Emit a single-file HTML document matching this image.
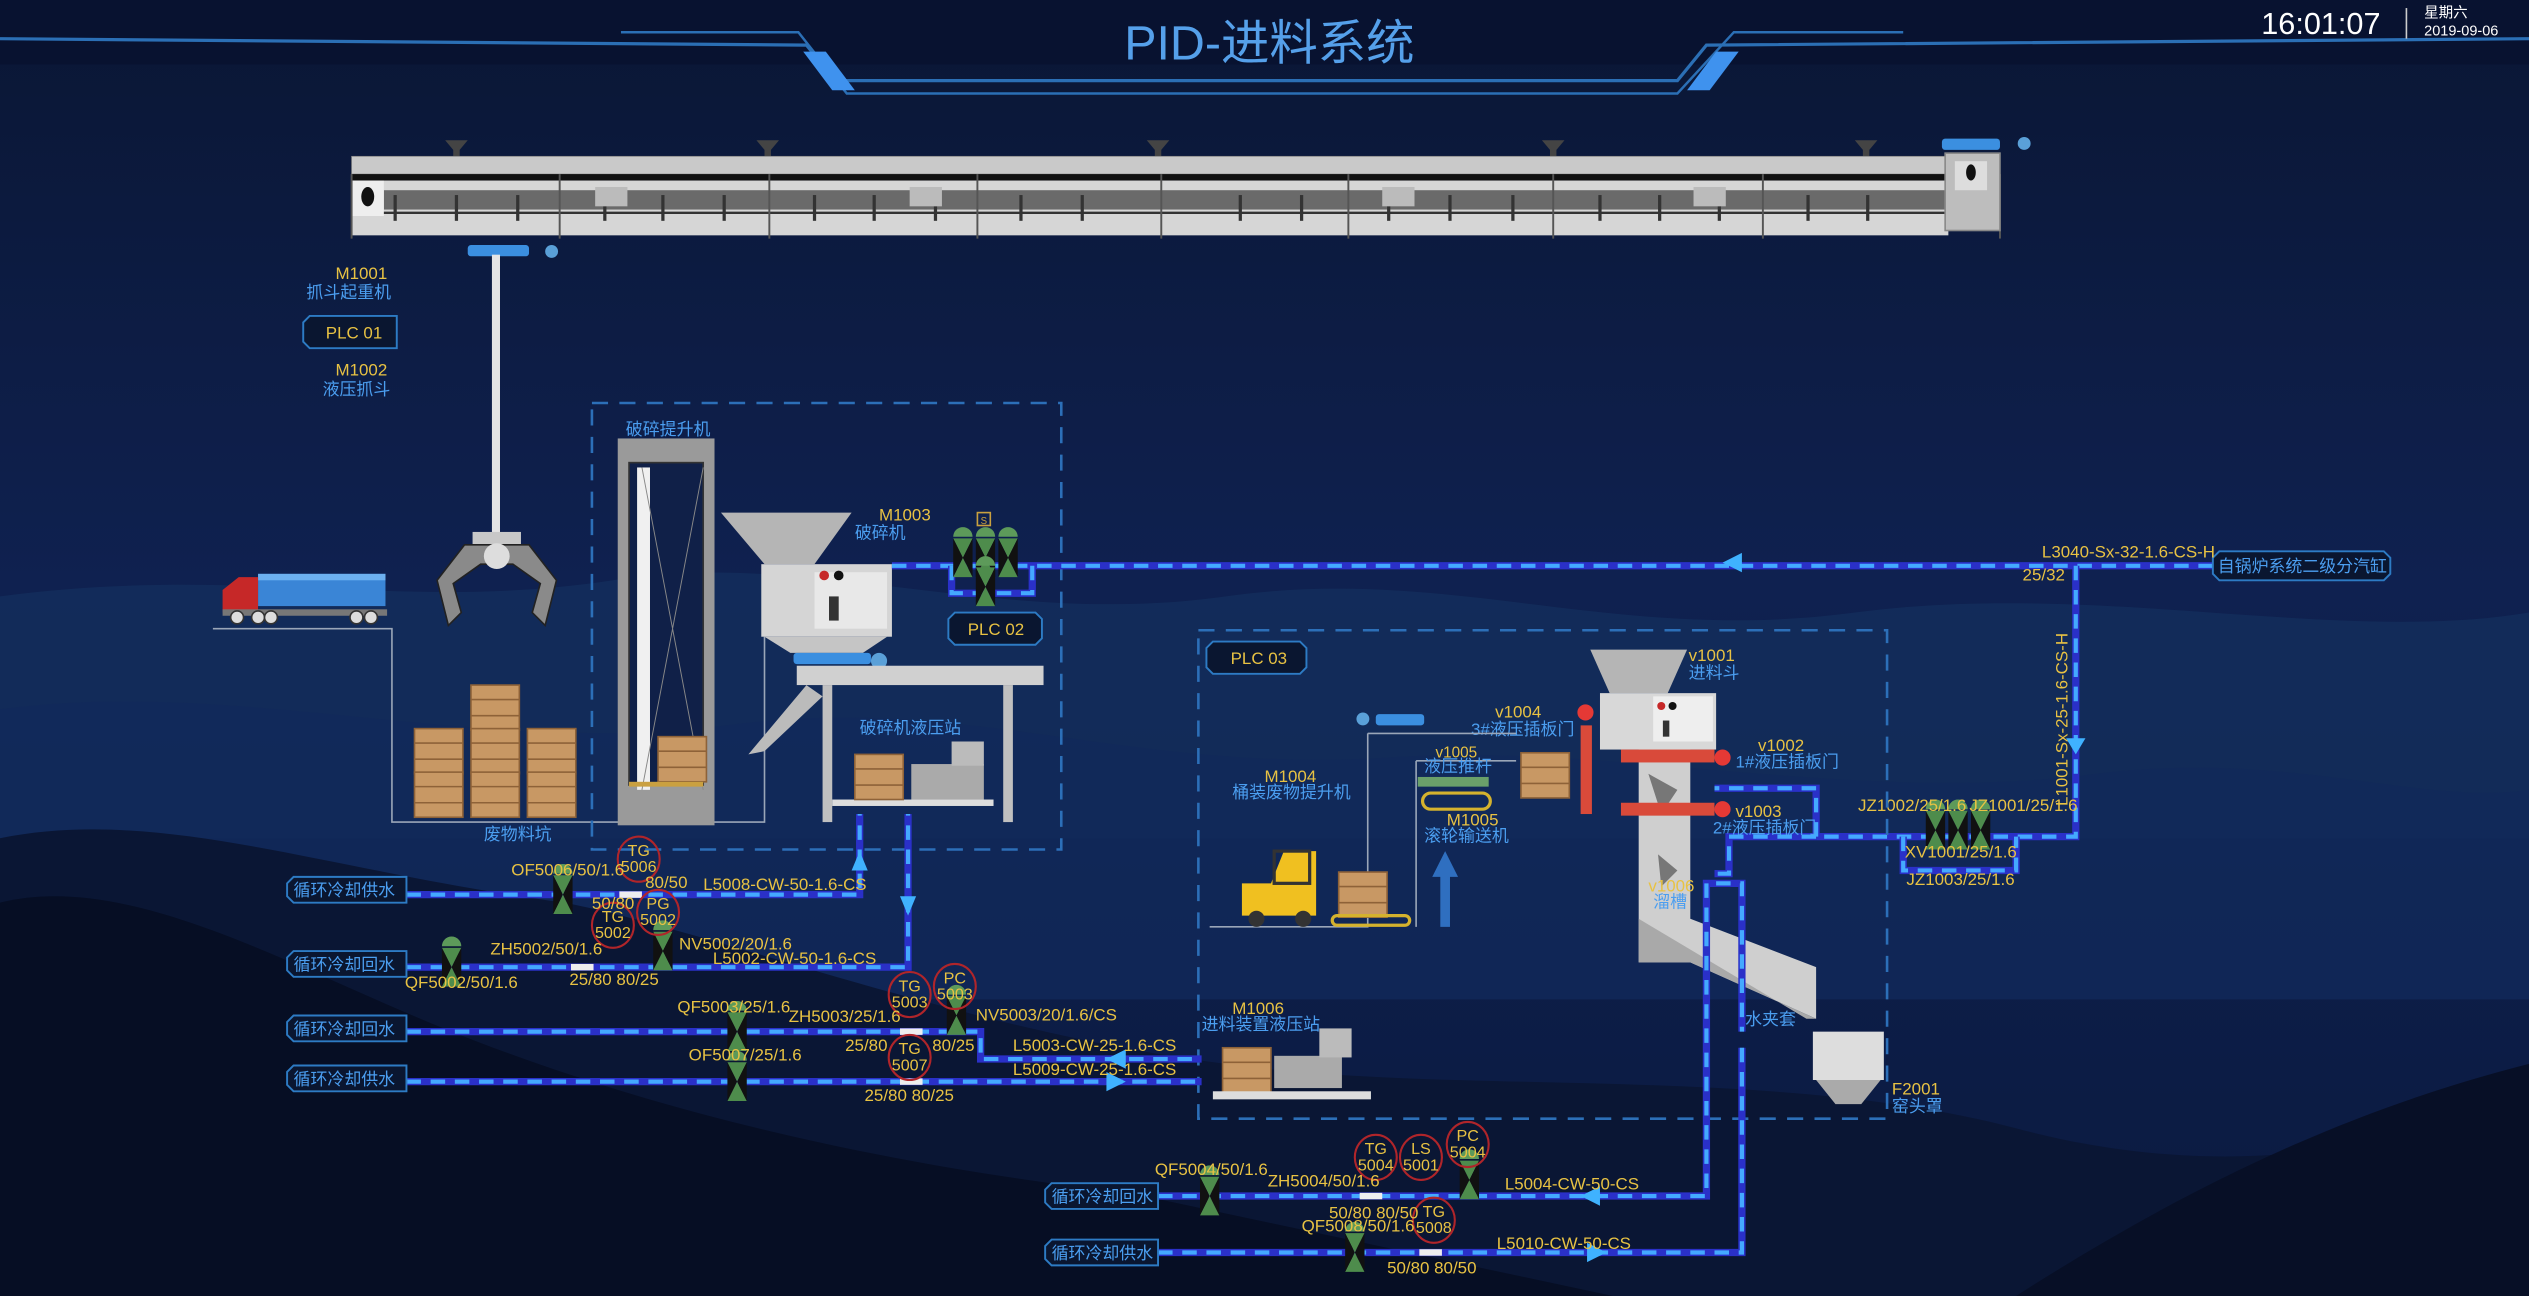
<!DOCTYPE html>
<html><head><meta charset="utf-8"><style>
html,body{margin:0;padding:0;background:#0c1a3c;}
svg{display:block}
text{font-family:"Liberation Sans","Noto Sans CJK SC",sans-serif}
.y{fill:#e8c243;font-size:10.5px}
.b{fill:#4b9ef0;font-size:10.5px}
.pa{stroke:#2a30c8;stroke-width:4.5;fill:none}
.pb{stroke:#44a9ff;stroke-width:2.6;stroke-dasharray:9 6;fill:none}
.db{stroke:#2c6fb8;stroke-width:1.6;stroke-dasharray:10 7;fill:none}
.tag{fill:none;stroke:#b0252a;stroke-width:1.3}
.lb{fill:#0a1630;stroke:#2d7bc4;stroke-width:1.2}
.gl{stroke:#9aa6b8;stroke-width:1;fill:none}
</style></head><body>
<svg width="2529" height="1296" viewBox="0 0 1568 804" preserveAspectRatio="none" xmlns="http://www.w3.org/2000/svg">
<defs>
<linearGradient id="bg" x1="0" y1="0" x2="0" y2="1">
<stop offset="0" stop-color="#0a1634"/><stop offset="0.45" stop-color="#0f2150"/><stop offset="1" stop-color="#0b1a40"/></linearGradient>
<g id="v"><path d="M-6,-13 a6,6 0 0 1 12,0 z" fill="#5d9a5a"/><path d="M-6,-12 L6,-12 L0,0Z M-6,12 L6,12 L0,0Z" fill="#4e8c4c"/><path d="M-6,-12 L0,0 L-6,12Z M6,-12 L0,0 L6,12Z" fill="#111"/></g>
<g id="box"><rect x="0" y="0" width="30" height="28" fill="#c89864" stroke="#8e6238"/><line x1="0" y1="9" x2="30" y2="9" stroke="#8e6238"/><line x1="0" y1="19" x2="30" y2="19" stroke="#8e6238"/></g>
</defs>
<rect width="1568" height="804" fill="url(#bg)"/>
<!-- mountains -->
<path d="M0,370 C150,350 250,380 380,360 C500,340 620,390 760,370 C900,350 1000,400 1150,380 C1300,360 1450,400 1568,380 L1568,520 L0,520Z" fill="#14305e" opacity="0.7"/>
<path d="M0,440 C150,420 300,470 450,450 C600,430 700,480 860,470 C1000,460 1150,500 1300,480 C1420,465 1500,500 1568,490 L1568,620 L0,620Z" fill="#12295a" opacity="0.8"/>
<path d="M0,520 C100,500 200,540 350,560 C450,580 600,640 760,660 C900,680 1100,660 1250,700 C1400,740 1500,700 1568,690 L1568,804 L0,804Z" fill="#0a1634"/>
<path d="M0,560 C80,540 180,600 280,640 C380,680 520,720 700,740 L1000,804 L0,804Z" fill="#060e24"/>
<path d="M1250,804 C1350,740 1450,690 1568,660 L1568,804Z" fill="#070f26"/>
<!-- header -->
<rect x="0" y="0" width="1568" height="40" fill="#081230"/>
<path d="M0,24 L500,28 L518,50 L1040,50 L1058,28 L1568,24" stroke="#2b6fb5" stroke-width="2" fill="none"/>
<path d="M385,20 L495,20 L525,58 L1040,58 L1075,20 L1180,20" stroke="#2b6fb5" stroke-width="1.5" fill="none"/>
<path d="M498,32 L512,32 L530,56 L516,56Z" fill="#3f92ee"/>
<path d="M1064,32 L1078,32 L1060,56 L1046,56Z" fill="#3f92ee"/>
<text x="787" y="37" text-anchor="middle" style="font-size:30px;fill:#55a0ea">PID-进料系统</text>
<text x="1402" y="21" style="font-size:19px;fill:#fff">16:01:07</text>
<line x1="1492" y1="5" x2="1492" y2="24" stroke="#ccc"/>
<text x="1503" y="11" style="font-size:9px;fill:#fff">星期六</text>
<text x="1503" y="22" style="font-size:9px;fill:#fff">2019-09-06</text>

<!-- conveyor -->
<g>
<g fill="#444"><path d="M276,87 h14 l-5,6 v4 h-4 v-4z"/><path d="M469,87 h14 l-5,6 v4 h-4 v-4z"/><path d="M711,87 h14 l-5,6 v4 h-4 v-4z"/><path d="M956,87 h14 l-5,6 v4 h-4 v-4z"/><path d="M1150,87 h14 l-5,6 v4 h-4 v-4z"/></g>
<rect x="218" y="97" width="990" height="11" fill="#c9c9c9" stroke="#888" stroke-width="0.5"/>
<rect x="218" y="108" width="990" height="4" fill="#111"/>
<rect x="218" y="112" width="990" height="34" fill="#d6d6d6"/>
<rect x="238" y="118" width="970" height="12" fill="#6a6a6a"/>
<line x1="218" y1="132" x2="1208" y2="132" stroke="#333" stroke-width="1.5"/>
<rect x="218" y="112" width="20" height="22" fill="#eee"/><ellipse cx="228" cy="122" rx="4" ry="6" fill="#111"/>
<g stroke="#555" stroke-width="1.2"><line x1="347" y1="108" x2="347" y2="148"/><line x1="477" y1="108" x2="477" y2="148"/><line x1="606" y1="108" x2="606" y2="148"/><line x1="720" y1="108" x2="720" y2="148"/><line x1="836" y1="108" x2="836" y2="148"/><line x1="963" y1="108" x2="963" y2="148"/><line x1="1093" y1="108" x2="1093" y2="148"/><line x1="218" y1="108" x2="218" y2="148"/><line x1="1240" y1="108" x2="1240" y2="148"/></g>
<g fill="#333"><rect x="244" y="121" width="2" height="16"/><rect x="282" y="121" width="2" height="16"/><rect x="320" y="121" width="2" height="16"/><rect x="374" y="121" width="2" height="16"/><rect x="410" y="121" width="2" height="16"/><rect x="448" y="121" width="2" height="16"/><rect x="504" y="121" width="2" height="16"/><rect x="541" y="121" width="2" height="16"/><rect x="579" y="121" width="2" height="16"/><rect x="632" y="121" width="2" height="16"/><rect x="670" y="121" width="2" height="16"/><rect x="768" y="121" width="2" height="16"/><rect x="806" y="121" width="2" height="16"/><rect x="860" y="121" width="2" height="16"/><rect x="898" y="121" width="2" height="16"/><rect x="937" y="121" width="2" height="16"/><rect x="991" y="121" width="2" height="16"/><rect x="1028" y="121" width="2" height="16"/><rect x="1065" y="121" width="2" height="16"/><rect x="1120" y="121" width="2" height="16"/><rect x="1157" y="121" width="2" height="16"/></g>
<g fill="#bbb"><rect x="369" y="116" width="20" height="12"/><rect x="564" y="116" width="20" height="12"/><rect x="857" y="116" width="20" height="12"/><rect x="1050" y="116" width="20" height="12"/></g>
<rect x="1206" y="95" width="34" height="48" fill="#bdbdbd" stroke="#888"/>
<rect x="1212" y="100" width="20" height="18" fill="#ddd"/><ellipse cx="1222" cy="107" rx="3" ry="5" fill="#111"/>
<rect x="1204" y="86" width="36" height="7" rx="2" fill="#3b8fe0"/><circle cx="1255" cy="89" r="4" fill="#5aa0d8"/>
</g>
<!-- crane -->
<rect x="290" y="152" width="38" height="7" rx="2" fill="#3b8fe0"/><circle cx="342" cy="156" r="4" fill="#5aa0d8"/>
<rect x="305" y="158" width="5" height="174" fill="#e4e4e4"/>
<rect x="293" y="330" width="30" height="8" fill="#c8c8c8"/>
<path d="M288,338 H328 L345,360 L338,388 L330,380 L335,362 L318,350 H298 L281,362 L286,380 L278,388 L271,360Z" fill="#8a8a8a" stroke="#222" stroke-width="1"/>
<circle cx="308" cy="345" r="8" fill="#ddd"/>
<text x="208" y="173" class="y">M1001</text><text x="190" y="185" class="b">抓斗起重机</text>
<path d="M192,196 H246 V216 H192 L188,212 V200Z" class="lb"/><text x="202" y="210" class="y">PLC  01</text>
<text x="208" y="233" class="y">M1002</text><text x="200" y="245" class="b">液压抓斗</text>
<!-- truck -->
<rect x="160" y="356" width="79" height="20" fill="#3a85d6"/><rect x="160" y="356" width="79" height="4" fill="#6cb0ef"/>
<path d="M138,366 L148,358 H160 V380 H138Z" fill="#c62828"/><rect x="138" y="378" width="102" height="4" fill="#777"/>
<g fill="#ddd" stroke="#333"><circle cx="147" cy="383" r="4"/><circle cx="160" cy="383" r="4"/><circle cx="168" cy="383" r="4"/><circle cx="221" cy="383" r="4"/><circle cx="230" cy="383" r="4"/></g>
<!-- pit -->
<path d="M132,390 H243 V510 H474 V395" class="gl"/>
<use href="#box" x="292" y="425"/><use href="#box" x="257" y="452"/><use href="#box" x="292" y="452"/><use href="#box" x="327" y="452"/><use href="#box" x="257" y="479"/><use href="#box" x="292" y="479"/><use href="#box" x="327" y="479"/>
<text x="300" y="521" class="b">废物料坑</text>
<!-- dashed zone 1 -->
<rect x="367" y="250" width="291" height="277" class="db"/>
<text x="388" y="270" class="b">破碎提升机</text>
<rect x="383" y="272" width="60" height="240" fill="#9a9a9a"/><rect x="390" y="287" width="46" height="200" fill="#102048" stroke="#333"/>
<rect x="395" y="290" width="8" height="200" fill="#f0f0f0"/>
<path d="M398,290 L436,490 M436,290 L398,490" stroke="#888" stroke-width="0.6"/>
<use href="#box" x="408" y="457"/><rect x="390" y="485" width="46" height="3" fill="#caa040"/>
<!-- crusher -->
<path d="M447,318 H528 L505,350 H474Z" fill="#b5b5b5"/>
<rect x="472" y="350" width="81" height="45" fill="#d5d5d5"/><rect x="505" y="355" width="45" height="35" fill="#e8e8e8"/>
<circle cx="511" cy="357" r="3" fill="#c62828"/><circle cx="520" cy="357" r="3" fill="#111"/><rect x="514" y="370" width="6" height="15" fill="#333"/>
<path d="M474,395 H550 L535,405 H490Z" fill="#c5c5c5"/>
<rect x="492" y="405" width="48" height="7" rx="2" fill="#3b8fe0"/><circle cx="545" cy="410" r="5" fill="#5aa0d8"/>
<rect x="494" y="413" width="153" height="12" fill="#d0d0d0"/>
<path d="M500,425 L464,468 L474,466 L510,432Z" fill="#bbb"/>
<rect x="510" y="425" width="6" height="85" fill="#c0c0c0"/><rect x="622" y="425" width="6" height="85" fill="#c0c0c0"/>
<rect x="516" y="496" width="100" height="4" fill="#ddd"/>
<use href="#box" x="530" y="468"/><rect x="565" y="474" width="45" height="22" fill="#aaa"/><rect x="590" y="460" width="20" height="15" fill="#bbb"/>
<text x="545" y="323" class="y">M1003</text><text x="530" y="334" class="b">破碎机</text>
<text x="533" y="455" class="b">破碎机液压站</text>
<path d="M592,380 H642 L646,384 V396 L642,400 H592 L588,396 V384Z" class="lb"/><text x="600" y="394" class="y">PLC  02</text>
<!-- steam line -->
<path d="M553,351 H1480" class="pa"/><path d="M553,351 H1480" class="pb"/>
<path d="M590,351 V368 H640 V351" class="pa"/><path d="M590,351 V368 H640 V351" class="pb"/>
<use href="#v" x="597" y="346"/><use href="#v" x="611" y="346"/><use href="#v" x="625" y="346"/><use href="#v" x="611" y="364"/>
<rect x="606" y="318" width="8" height="8" fill="none" stroke="#c9a13f"/><text x="608" y="325" style="font-size:6px;fill:#c9a13f">S</text>
<path d="M1068,349 L1080,343 V355Z" fill="#3fb2ff"/>
<path d="M1376,342 H1478 L1482,346 V356 L1478,360 H1376 L1372,356 V346Z" class="lb"/><text x="1375" y="355" class="b">自锅炉系统二级分汽缸</text>
<text x="1266" y="346" class="y">L3040-Sx-32-1.6-CS-H</text><text x="1254" y="360" class="y">25/32</text>
<path d="M1287,351 V519 H1126" class="pa"/><path d="M1287,351 V519 H1126" class="pb"/>
<path d="M1287,468 L1281,458 H1293Z" fill="#3fb2ff"/>
<text transform="translate(1282,500) rotate(-90)" class="y">L1001-Sx-25-1.6-CS-H</text>
<path d="M1180,519 V540 H1250 V519" class="pa"/><path d="M1180,519 V540 H1250 V519" class="pb"/>
<use href="#v" x="1200" y="515"/><use href="#v" x="1214" y="515"/><use href="#v" x="1228" y="515"/>
<text x="1152" y="503" class="y">JZ1002/25/1.6</text><text x="1221" y="503" class="y">JZ1001/25/1.6</text>
<text x="1181" y="532" class="y">XV1001/25/1.6</text><text x="1182" y="549" class="y">JZ1003/25/1.6</text>
<path d="M1126,519 V489 H1063 M1126,519 H1072 V542 H1063" class="pa"/><path d="M1126,519 V489 H1063 M1126,519 H1072 V542 H1063" class="pb"/>
<!-- zone 3 -->
<rect x="743" y="391" width="427" height="303" class="db"/>
<path d="M752,398 H806 L810,402 V414 L806,418 H752 L748,414 V402Z" class="lb"/><text x="763" y="412" class="y">PLC  03</text>
<path d="M986,403 H1046 L1034,430 H998Z" fill="#b5b5b5"/>
<rect x="992" y="430" width="72" height="35" fill="#d8d8d8"/><rect x="1025" y="432" width="37" height="28" fill="#eee"/>
<circle cx="1030" cy="438" r="2.5" fill="#c62828"/><circle cx="1037" cy="438" r="2.5" fill="#111"/><rect x="1031" y="447" width="4" height="10" fill="#333"/>
<path d="M1016,465 H1048 V570 L1126,600 V632 L1048,597 H1016Z" fill="#cfcfcf"/>
<path d="M1016,570 L1120,632 L1126,632 L1048,597 H1016Z" fill="#a9a9a9"/>
<path d="M1022,480 L1040,490 L1030,505Z M1028,530 L1040,540 L1030,550Z" fill="#777"/>
<rect x="1005" y="465" width="58" height="8" fill="#d94a3a"/><circle cx="1068" cy="470" r="5" fill="#e53935"/>
<rect x="1005" y="498" width="58" height="8" fill="#d94a3a"/><circle cx="1068" cy="502" r="5" fill="#e53935"/>
<rect x="980" y="450" width="7" height="55" fill="#d94a3a"/><circle cx="983" cy="442" r="5" fill="#e53935"/>
<text x="1047" y="410" class="y">v1001</text><text x="1047" y="421" class="b">进料斗</text>
<text x="927" y="445" class="y">v1004</text><text x="912" y="456" class="b">3#液压插板门</text>
<text x="1090" y="466" class="y">v1002</text><text x="1076" y="476" class="b">1#液压插板门</text>
<text x="1076" y="507" class="y">v1003</text><text x="1062" y="517" class="b">2#液压插板门</text>
<text x="1022" y="553" class="y">v1006</text><text x="1025" y="563" class="b">溜槽</text>
<path d="M848,455 H940 M878,472 H940" class="gl"/>
<circle cx="845" cy="446" r="4" fill="#5aa0d8"/><rect x="853" y="443" width="30" height="7" rx="2" fill="#3b8fe0"/>
<path d="M848,455 V575 H750 M878,472 V575" class="gl"/>
<text x="890" y="470" class="y" style="font-size:9.5px">v1005</text><text x="883" y="479" class="b">液压推杆</text>
<rect x="879" y="482" width="44" height="6" fill="#6aa06a"/>
<rect x="882" y="492" width="42" height="10" rx="5" fill="none" stroke="#d4b22e" stroke-width="2"/>
<use href="#box" x="943" y="467"/>
<text x="897" y="512" class="y">M1005</text><text x="883" y="522" class="b">滚轮输送机</text>
<path d="M896,528 L904,544 H899 V575 H893 V544 H888Z" fill="#2f6fc0"/>
<text x="784" y="485" class="y">M1004</text><text x="764" y="495" class="b">桶装废物提升机</text>
<path d="M770,548 h18 l8,-20 h20 v40 h-46z" fill="#f0c020"/><rect x="790" y="528" width="22" height="20" fill="none" stroke="#333" stroke-width="2"/>
<circle cx="779" cy="570" r="5" fill="#333"/><circle cx="808" cy="570" r="5" fill="#333"/>
<use href="#box" x="830" y="541"/><rect x="826" y="568" width="48" height="6" rx="3" fill="none" stroke="#d4b22e" stroke-width="2"/>
<text x="764" y="629" class="y">M1006</text><text x="745" y="639" class="b">进料装置液压站</text>
<use href="#box" x="758" y="650"/><rect x="790" y="655" width="42" height="20" fill="#aaa"/><rect x="818" y="638" width="20" height="18" fill="#bbb"/>
<rect x="752" y="677" width="98" height="5" fill="#ddd"/>
<rect x="1124" y="640" width="44" height="30" fill="#ddd"/><path d="M1126,670 H1166 L1154,685 H1138Z" fill="#aaa"/>
<text x="1173" y="679" class="y">F2001</text><text x="1173" y="690" class="b">窑头罩</text>
<text x="1082" y="636" class="b">水夹套</text>
<!-- cooling water lines -->
<g>
<path d="M252,555 H533 V505" class="pa"/><path d="M252,555 H533 V505" class="pb"/>
<path d="M252,600 H563 V505" class="pa"/><path d="M252,600 H563 V505" class="pb"/>
<path d="M252,640 H608 V657 H745" class="pa"/><path d="M252,640 H608 V657 H745" class="pb"/>
<path d="M252,671 H745" class="pa"/><path d="M252,671 H745" class="pb"/>
<path d="M718,742 H1058 V548 H1080 V640" class="pa"/><path d="M718,742 H1058 V548 H1080 V640" class="pb"/>
<path d="M718,777 H1080 V650" class="pa"/><path d="M718,777 H1080 V650" class="pb"/>
</g>
<g fill="#3fb2ff"><path d="M533,528 L528,540 H538Z"/><path d="M563,568 L558,556 H568Z"/><path d="M686,657 L698,651 V663Z"/><path d="M698,671 L686,665 V677Z"/><path d="M980,742 L992,736 V748Z"/><path d="M996,777 L984,771 V783Z"/></g>
<g>
<path d="M182,544 H252 V560 H182 L178,556 V548Z" class="lb"/><text x="182" y="556" class="b">循环冷却供水</text>
<path d="M182,590 H252 V606 H182 L178,602 V594Z" class="lb"/><text x="182" y="602" class="b">循环冷却回水</text>
<path d="M182,630 H252 V646 H182 L178,642 V634Z" class="lb"/><text x="182" y="642" class="b">循环冷却回水</text>
<path d="M182,661 H252 V677 H182 L178,673 V665Z" class="lb"/><text x="182" y="673" class="b">循环冷却供水</text>
<path d="M652,734 H718 V750 H652 L648,746 V738Z" class="lb"/><text x="652" y="746" class="b">循环冷却回水</text>
<path d="M652,769 H718 V785 H652 L648,781 V773Z" class="lb"/><text x="652" y="781" class="b">循环冷却供水</text>
</g>
<!-- valves and tags -->
<use href="#v" x="349" y="555"/><use href="#v" x="280" y="600"/><use href="#v" x="411" y="590"/><use href="#v" x="457" y="640"/><use href="#v" x="457" y="671"/><use href="#v" x="593" y="630"/><use href="#v" x="750" y="742"/><use href="#v" x="840" y="777"/><use href="#v" x="911" y="732"/>
<g fill="#eee"><rect x="384" y="553" width="14" height="4"/><rect x="354" y="598" width="14" height="4"/><rect x="558" y="638" width="14" height="4"/><rect x="558" y="669" width="14" height="4"/><rect x="843" y="740" width="14" height="4"/><rect x="880" y="775" width="14" height="4"/></g>
<g class="tag"><ellipse cx="396" cy="533" rx="13" ry="14"/><ellipse cx="380" cy="574" rx="13" ry="14"/><ellipse cx="408" cy="566" rx="13" ry="14"/><ellipse cx="564" cy="617" rx="13" ry="14"/><ellipse cx="592" cy="612" rx="13" ry="14"/><ellipse cx="564" cy="656" rx="13" ry="14"/><ellipse cx="853" cy="718" rx="13" ry="14"/><ellipse cx="881" cy="718" rx="13" ry="14"/><ellipse cx="910" cy="710" rx="13" ry="14"/><ellipse cx="889" cy="757" rx="13" ry="14"/></g>
<g class="y" text-anchor="middle" style="font-size:10px">
<text x="396" y="531">TG</text><text x="396" y="541">5006</text>
<text x="380" y="572">TG</text><text x="380" y="582">5002</text>
<text x="408" y="564">PG</text><text x="408" y="574">5002</text>
<text x="564" y="615">TG</text><text x="564" y="625">5003</text>
<text x="592" y="610">PC</text><text x="592" y="620">5003</text>
<text x="564" y="654">TG</text><text x="564" y="664">5007</text>
<text x="853" y="716">TG</text><text x="853" y="726">5004</text>
<text x="881" y="716">LS</text><text x="881" y="726">5001</text>
<text x="910" y="708">PC</text><text x="910" y="718">5004</text>
<text x="889" y="755">TG</text><text x="889" y="765">5008</text>
</g>
<g class="y">
<text x="317" y="543">OF5006/50/1.6</text><text x="400" y="551">80/50</text><text x="367" y="564">50/80</text>
<text x="436" y="552">L5008-CW-50-1.6-CS</text>
<text x="304" y="592">ZH5002/50/1.6</text><text x="421" y="589">NV5002/20/1.6</text><text x="442" y="598">L5002-CW-50-1.6-CS</text>
<text x="251" y="613">QF5002/50/1.6</text><text x="353" y="611">25/80 80/25</text>
<text x="420" y="628">QF5003/25/1.6</text><text x="489" y="634">ZH5003/25/1.6</text><text x="605" y="633">NV5003/20/1.6/CS</text>
<text x="524" y="652">25/80</text><text x="578" y="652">80/25</text><text x="628" y="652">L5003-CW-25-1.6-CS</text>
<text x="427" y="658">OF5007/25/1.6</text><text x="628" y="667">L5009-CW-25-1.6-CS</text>
<text x="536" y="683">25/80  80/25</text>
<text x="716" y="729">QF5004/50/1.6</text><text x="786" y="736">ZH5004/50/1.6</text><text x="933" y="738">L5004-CW-50-CS</text>
<text x="824" y="756">50/80 80/50</text><text x="807" y="764">QF5008/50/1.6</text><text x="928" y="775">L5010-CW-50-CS</text>
<text x="860" y="790">50/80  80/50</text>
</g>
</svg>
</body></html>
